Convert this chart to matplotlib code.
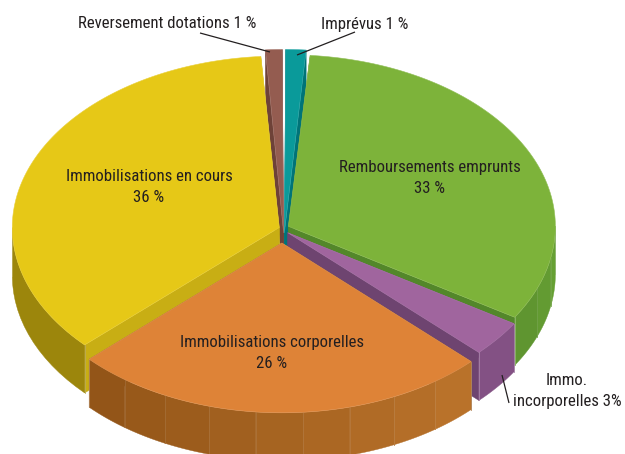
import numpy as np
import matplotlib
matplotlib.use("Agg")
import matplotlib.pyplot as plt
from matplotlib import font_manager as fm
from matplotlib.patches import Polygon
from matplotlib.colors import to_rgb

installed = {f.name for f in fm.fontManager.ttflist}
for fam in ['Liberation Sans Narrow', 'Roboto Condensed', 'Open Sans Condensed', 'Noto Sans Condensed', 'Lato']:
    if fam in installed:
        plt.rcParams['font.family'] = [fam, 'DejaVu Sans']
        break

# Data, clockwise from the top of the pie
categories = ["Imprévus", "Remboursements emprunts", "Immo. incorporelles",
              "Immobilisations corporelles", "Immobilisations en cours", "Reversement dotations"]
values = [1.3, 32.6, 3.4, 25.7, 35.9, 1.1]
shown_percent = [1, 33, 3, 26, 36, 1]

top_colors = ["#0A9A9A", "#7DB33A", "#A0659E", "#DE8337", "#E6C817", "#945C50"]
face_colors = ["#007478", "#53872A", "#6E4470", "#96571B", "#C8AE14", "#6E4238"]
wall_left = ["#007478", "#5F9530", "#835184", "#935518", "#9C860C", "#6E4238"]
wall_right = ["#007478", "#66A033", "#835184", "#B9722A", "#9C860C", "#6E4238"]
wall_facets = [1, 3, 1, 9, 1, 1]
explode = [-4, 6, 6, 14, 4, -4]
apex_dx = [1.5, 0, 0, -1, 0, 0.5]
radius_scale = [1.07, 1.0, 1.0, 0.99, 1.0, 1.07]
angle_inset = [0.3, 0, 0, 0, 0, 0.3]
draw_order = [0, 5, 4, 1, 2, 3]

CX, CY, RX, RY, DEPTH = 283, 229, 267, 171.5, 48


def arc(apex, a0, a1, scale, n=60):
    th = np.radians(np.linspace(a0, a1, n))
    return np.column_stack([apex[0] + RX * scale * np.sin(th),
                            apex[1] - RY * scale * np.cos(th)])


def mix(c0, c1, t):
    return tuple((1 - t) * np.array(to_rgb(c0)) + t * np.array(to_rgb(c1)))


fig = plt.figure(figsize=(6.25, 4.54), dpi=100, facecolor="white")
ax = fig.add_axes([0, 0, 1, 1])
ax.set_xlim(0, 625)
ax.set_ylim(454, 0)
ax.axis("off")

edges = np.concatenate([[0], np.cumsum(values)]) / np.sum(values) * 360
down = np.array([0, DEPTH])

for z, i in enumerate(draw_order):
    a0, a1 = edges[i] + angle_inset[i], edges[i + 1] - angle_inset[i]
    mid = np.radians((a0 + a1) / 2)
    apex = np.array([CX + apex_dx[i] + explode[i] * np.sin(mid), CY - explode[i] * np.cos(mid)])
    scale = radius_scale[i]
    base_z = z * 10 + 1

    # radial faces
    for a in (a0, a1):
        p = arc(apex, a, a, scale, 1)[0]
        ax.add_patch(Polygon([apex, p, p + down, apex + down], closed=True,
                             fc=face_colors[i], ec=face_colors[i], lw=0.3, zorder=base_z))

    # outer wall, front half only
    w0, w1 = max(a0, 90), min(a1, 270)
    if w1 > w0:
        cuts = np.linspace(w0, w1, wall_facets[i] + 1)
        for k in range(wall_facets[i]):
            t = 1 - k / max(wall_facets[i] - 1, 1)
            col = mix(wall_left[i], wall_right[i], t)
            top = arc(apex, cuts[k], cuts[k + 1], scale, 16)
            ax.add_patch(Polygon(np.vstack([top, (top + down)[::-1]]), closed=True,
                                 fc=col, ec=col, lw=0.3, zorder=base_z + 1))
            if k > 0:
                ax.plot([top[0, 0]] * 2, [top[0, 1], top[0, 1] + DEPTH],
                        color=mix(col, "#FFFFFF", 0.12), lw=0.6, zorder=base_z + 2)
        for a in (w0, w1):
            p = arc(apex, a, a, scale, 1)[0]
            ax.plot([p[0], p[0]], [p[1], p[1] + DEPTH],
                    color=mix(wall_left[i], "#FFFFFF", 0.3), lw=0.6, zorder=base_z + 2)

    # top surface
    ax.add_patch(Polygon(np.vstack([apex, arc(apex, a0, a1, scale, 120)]), closed=True,
                         fc=top_colors[i], ec=mix(top_colors[i], "#FFFFFF", 0.15),
                         lw=0.4, zorder=base_z + 3))

# Font size fitted so the longest label has the reference width (182 px)
renderer = fig.canvas.get_renderer()
probe = ax.text(0, 0, categories[1], fontsize=12)
fs = 12 * 182 / probe.get_window_extent(renderer).width
probe.remove()

text_kw = dict(color="#231F20", fontsize=fs, ha="center", va="center", zorder=100, linespacing=1.42)
ax.text(167, 24, f"{categories[5]} {shown_percent[5]} %", **text_kw)
ax.text(364.5, 24, f"{categories[0]} {shown_percent[0]} %", **text_kw)
ax.text(149, 187, f"{categories[4]}\n{shown_percent[4]} %", **text_kw)
ax.text(430, 178, f"{categories[1]}\n{shown_percent[1]} %", **text_kw)
ax.text(272, 353, f"{categories[3]}\n{shown_percent[3]} %", **text_kw)
ax.text(567, 391, f"Immo.\nincorporelles {shown_percent[2]}%", **text_kw)

# Leader lines
line_kw = dict(color="#231F20", lw=0.9, zorder=99, solid_capstyle="butt")
ax.plot([200, 270], [33, 52], **line_kw)
ax.plot([355, 297], [32, 55], **line_kw)
ax.plot([502, 509], [375, 403], **line_kw)

fig.savefig("out.png", dpi=100, facecolor="white")
